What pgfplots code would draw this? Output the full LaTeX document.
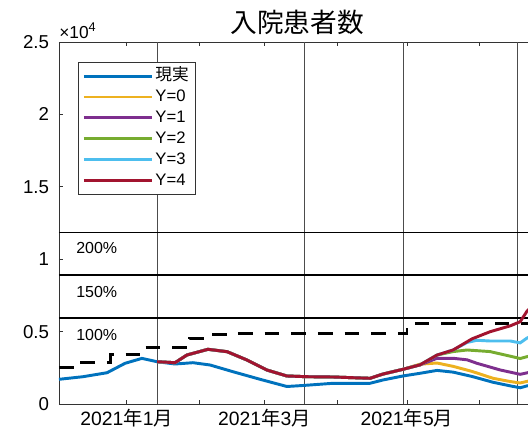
\documentclass[border=0pt]{standalone}
\usepackage{pgfplots}
\pgfplotsset{compat=1.18}
\usepackage{fontspec}
\setmainfont{Liberation Sans}
\newfontfamily\jpfont{Noto Sans CJK JP}
\definecolor{mblue}{rgb}{0,0.447,0.741}
\definecolor{myellow}{rgb}{0.929,0.694,0.125}
\definecolor{mpurple}{rgb}{0.494,0.184,0.556}
\definecolor{mgreen}{rgb}{0.466,0.674,0.188}
\definecolor{mcyan}{rgb}{0.301,0.745,0.933}
\definecolor{mred}{rgb}{0.635,0.078,0.184}
\begin{document}
\begin{tikzpicture}
\begin{axis}[
  at={(44.25pt,25.5pt)}, anchor=south west,
  scale only axis, width=357pt, height=271.5pt,
  xmin=-28.99, xmax=174.86, ymin=0, ymax=25000,
  clip=false,
  xtick={0,31,59,90,120,151},
  xticklabels={2021{\jpfont 年}1{\jpfont 月},,2021{\jpfont 年}3{\jpfont 月},,2021{\jpfont 年}5{\jpfont 月},},
  ytick={0,5000,10000,15000,20000,25000},
  yticklabels={0,0.5,1,1.5,2,2.5},
  scaled y ticks=false,
  tick align=inside, major tick length=3pt,
  tick style={black!80, line width=0.5pt},
  axis line style={black!80, line width=0.6pt},
  ticklabel style={font=\fontsize{14}{16}\selectfont},
  xticklabel style={font=\fontsize{14.5}{16}\selectfont},
  yticklabel style={xshift=-4pt},
  title={\jpfont 入院患者数},
  title style={font=\fontsize{20}{23}\selectfont, yshift=-4pt},
  legend style={at={(axis description cs:0.04,0.945)}, anchor=north west,
    draw=black!80, line width=0.5pt, fill=white,
    font=\fontsize{12.5}{14}\selectfont, row sep=0pt, inner xsep=3pt, inner ysep=2.5pt,
    nodes={inner sep=1.6pt, text height=9.5pt, text depth=3pt}},
  legend cell align=left,
  legend image code/.code={\draw[#1, line width=2.2pt] (0pt,0pt) -- (51pt,0pt);},
]
% reference lines
\addplot[forget plot, black!70, line width=0.6pt] coordinates {(13,0) (13,25000)};
\addplot[forget plot, black!70, line width=0.6pt] coordinates {(75.9,0) (75.9,25000)};
\addplot[forget plot, black!70, line width=0.6pt] coordinates {(118.4,0) (118.4,25000)};
\addplot[forget plot, black!70, line width=0.6pt] coordinates {(167.2,0) (167.2,25000)};
\addplot[forget plot, black, line width=1.1pt] coordinates {(-28.99,11860) (174.86,11860)};
\addplot[forget plot, black, line width=1.1pt] coordinates {(-28.99,8895) (174.86,8895)};
\addplot[forget plot, black, line width=1.1pt] coordinates {(-28.99,5930) (174.86,5930)};
% capacity (dashed step)
\addplot[forget plot, const plot, black, line width=2.1pt, dash pattern=on 11pt off 9pt] coordinates {
(-29,2510) (-21,2880) (-7,3430) (7,3890) (27,4540) (35.5,4810) (46.5,4880) (120,5560) (174.9,5560)};
% actual
\addplot[mblue, line width=2.2pt] coordinates {
(-29,1705) (-18.7,1885) (-8.4,2160) (-0.7,2810) (6.5,3150) (13,2921) (20.7,2762) (28.4,2852) (35.7,2693) (45.5,2230) (57.1,1706) (68.6,1209) (75.5,1278) (88.4,1430) (104.2,1430) (109.8,1660) (118.3,1935) (125.6,2120) (132.9,2320) (139.8,2200) (147.9,1900) (156.9,1500) (164.3,1250) (168.5,1120) (171.4,1250) (174.9,1350)};
\addlegendentry{\jpfont 現実}
% Y=0
\addplot[myellow, line width=2.2pt] coordinates {
(13,2921) (20.7,2852) (25.8,3384) (34.8,3777) (43,3612) (51.5,3039) (60,2348) (68.6,1934) (77.2,1885) (88.4,1864) (104.2,1775) (109.8,2070) (118.3,2395)
(125.6,2750) (132.9,2830) (139.8,2600) (147.9,2250) (156.9,1775) (164.3,1550) (168.5,1450) (171.4,1560) (174.9,1700)};
\addlegendentry{Y=0}
% Y=1
\addplot[mpurple, line width=2.2pt] coordinates {
(13,2921) (20.7,2852) (25.8,3384) (34.8,3777) (43,3612) (51.5,3039) (60,2348) (68.6,1934) (77.2,1885) (88.4,1864) (104.2,1775) (109.8,2070) (118.3,2395)
(125.6,2700) (132.9,3156) (139.8,3156) (145.8,3050) (150.0,2810) (160,2348) (168.5,2050) (171.4,2150) (174.9,2300)};
\addlegendentry{Y=1}
% Y=2
\addplot[mgreen, line width=2.2pt] coordinates {
(13,2921) (20.7,2852) (25.8,3384) (34.8,3777) (43,3612) (51.5,3039) (60,2348) (68.6,1934) (77.2,1885) (88.4,1864) (104.2,1775) (109.8,2070) (118.3,2395)
(125.6,2700) (132.9,3380) (139.8,3620) (145.8,3729) (155.6,3620) (164.3,3300) (168.5,3140) (171.4,3267) (174.9,3400)};
\addlegendentry{Y=2}
% Y=3
\addplot[mcyan, line width=2.2pt] coordinates {
(13,2921) (20.7,2852) (25.8,3384) (34.8,3777) (43,3612) (51.5,3039) (60,2348) (68.6,1934) (77.2,1885) (88.4,1864) (104.2,1775) (109.8,2070) (118.3,2395)
(125.6,2700) (132.9,3380) (139.8,3730) (145.8,4250) (150,4400) (155.6,4350) (164.3,4350) (168.5,4220) (171.4,4550) (174.9,4850)};
\addlegendentry{Y=3}
% Y=4
\addplot[mred, line width=2.2pt] coordinates {
(13,2921) (20.7,2852) (25.8,3384) (34.8,3777) (43,3612) (51.5,3039) (60,2348) (68.6,1934) (77.2,1885) (88.4,1864) (104.2,1775) (109.8,2070) (118.3,2395)
(125.6,2700) (132.9,3380) (139.8,3730) (147.9,4500) (155.6,4990) (164.3,5400) (168.5,5680) (171.4,6400) (174.9,7000)};
\addlegendentry{Y=4}
\node[anchor=west, inner sep=0pt, font=\fontsize{12}{14}\selectfont] at (axis cs:-21.7,10773) {200\%};
\node[anchor=west, inner sep=0pt, font=\fontsize{12}{14}\selectfont] at (axis cs:-21.7,7735) {150\%};
\node[anchor=west, inner sep=0pt, font=\fontsize{12}{14}\selectfont] at (axis cs:-21.7,4765) {100\%};
\node[anchor=south west, inner sep=0pt, yshift=2pt, font=\fontsize{13}{15}\selectfont] at (rel axis cs:0,1) {×10\raisebox{0.45em}{\fontsize{9.5}{11}\selectfont 4}};
\end{axis}
\pgfresetboundingbox
\useasboundingbox (0,0) rectangle (396pt,328.5pt);
\end{tikzpicture}
\end{document}
